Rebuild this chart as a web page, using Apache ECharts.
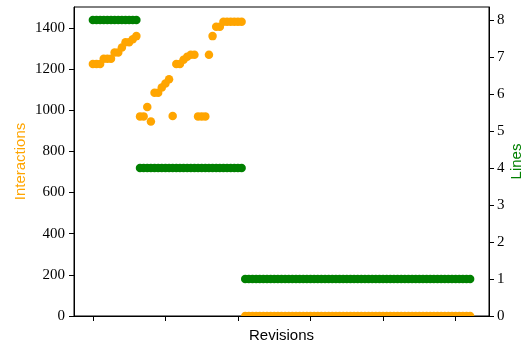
<!DOCTYPE html>
<html>
<head>
<meta charset="utf-8">
<script src="https://cdn.jsdelivr.net/npm/echarts@6/dist/echarts.min.js"></script>
<style>
html,body{margin:0;padding:0;background:#fff;}
#chart{width:531px;height:347px;}
</style>
</head>
<body>
<div id="chart"></div>
<script>
var revisions = [0,1,2,3,4,5,6,7,8,9,10,11,12,13,14,15,16,17,18,19,20,21,22,23,24,25,26,27,28,29,30,31,32,33,34,35,36,37,38,39,40,41,42,43,44,45,46,47,48,49,50,51,52,53,54,55,56,57,58,59,60,61,62,63,64,65,66,67,68,69,70,71,72,73,74,75,76,77,78,79,80,81,82,83,84,85,86,87,88,89,90,91,92,93,94,95,96,97,98,99,100,101,102,103,104];
var interactions = [1225,1225,1225,1250,1250,1250,1280,1280,1305,1330,1330,1345,1360,
  970,970,1015,945,1085,1085,1110,1130,1150,972,1225,1225,1245,1260,1270,1270,970,970,970,1270,1360,1405,1405,1430,1430,1430,1430,1430,1430,
  0,0,0,0,0,0,0,0,0,0,0,0,0,0,0,0,0,0,0,0,0,0,0,0,0,0,0,0,0,0,0,0,0,0,0,0,0,0,0,0,0,0,0,0,0,0,0,0,0,0,0,0,0,0,0,0,0,0,0,0,0,0,0];
var lines = [8,8,8,8,8,8,8,8,8,8,8,8,8,
  4,4,4,4,4,4,4,4,4,4,4,4,4,4,4,4,4,4,4,4,4,4,4,4,4,4,4,4,4,
  1,1,1,1,1,1,1,1,1,1,1,1,1,1,1,1,1,1,1,1,1,1,1,1,1,1,1,1,1,1,1,1,1,1,1,1,1,1,1,1,1,1,1,1,1,1,1,1,1,1,1,1,1,1,1,1,1,1,1,1,1,1,1];
var xTicks = [0,20,40,60,80,100];
var leftTicks = [0,200,400,600,800,1000,1200,1400];
var rightTicks = [0,1,2,3,4,5,6,7,8];

var chart = echarts.init(document.getElementById('chart'), null, {renderer:'canvas'});
function pairs(ys){ return revisions.map(function(x,i){ return [x, ys[i]]; }); }
var serif = 'Liberation Serif';
var sans = 'Liberation Sans';
function plain(v){ return String(v); }
chart.setOption({
  animation: false,
  grid: {left:74, right:42, top:7, bottom:31, containLabel:false, outerBoundsMode:'none', show:true, borderColor:'#000', borderWidth:1, backgroundColor:'transparent'},
  xAxis: {
    type:'value', min:-5.2, max:109.2, z:100,
    name:'Revisions', nameLocation:'middle', nameGap:12, nameMoveOverlap:false,
    nameTextStyle:{color:'#000', fontFamily:sans, fontSize:15},
    axisLine:{show:true, onZero:false, lineStyle:{color:'#000', width:1}},
    axisTick:{show:true, length:5, lineStyle:{color:'#000', width:1}, customValues:xTicks},
    axisLabel:{show:false},
    splitLine:{show:false}
  },
  yAxis: [{
    type:'value', min:0, max:1501.5, position:'left', z:100,
    name:'Interactions', nameLocation:'middle', nameGap:46, nameRotate:90, nameMoveOverlap:false,
    nameTextStyle:{color:'#FFA500', fontFamily:sans, fontSize:15},
    axisLine:{show:true, onZero:false, lineStyle:{color:'#000', width:1}},
    axisTick:{show:true, length:5, lineStyle:{color:'#000', width:1}, customValues:leftTicks},
    axisLabel:{color:'#000', fontFamily:serif, fontSize:15, margin:9, customValues:leftTicks, formatter:plain},
    splitLine:{show:false}
  },{
    type:'value', min:0, max:8.35, position:'right', z:100,
    name:'Lines', nameLocation:'middle', nameGap:20, nameRotate:90, nameMoveOverlap:false,
    nameTextStyle:{color:'#008000', fontFamily:sans, fontSize:15},
    axisLine:{show:true, onZero:false, lineStyle:{color:'#000', width:1}},
    axisTick:{show:true, length:5, lineStyle:{color:'#000', width:1}, customValues:rightTicks},
    axisLabel:{color:'#000', fontFamily:serif, fontSize:15, margin:8, customValues:rightTicks, formatter:plain},
    splitLine:{show:false}
  }],
  series: [{
    type:'scatter', yAxisIndex:0, symbolSize:8.5, z:2,
    itemStyle:{color:'#FFA500', opacity:1},
    data: pairs(interactions)
  },{
    type:'scatter', yAxisIndex:1, symbolSize:8.5, z:3,
    itemStyle:{color:'#008000', opacity:1},
    data: pairs(lines)
  }],
  graphic: [{
    type:'rect', z:50, silent:true,
    shape:{x:70, y:316.5, width:425, height:6},
    style:{fill:'#fff'}
  }]
});
</script>
</body>
</html>
